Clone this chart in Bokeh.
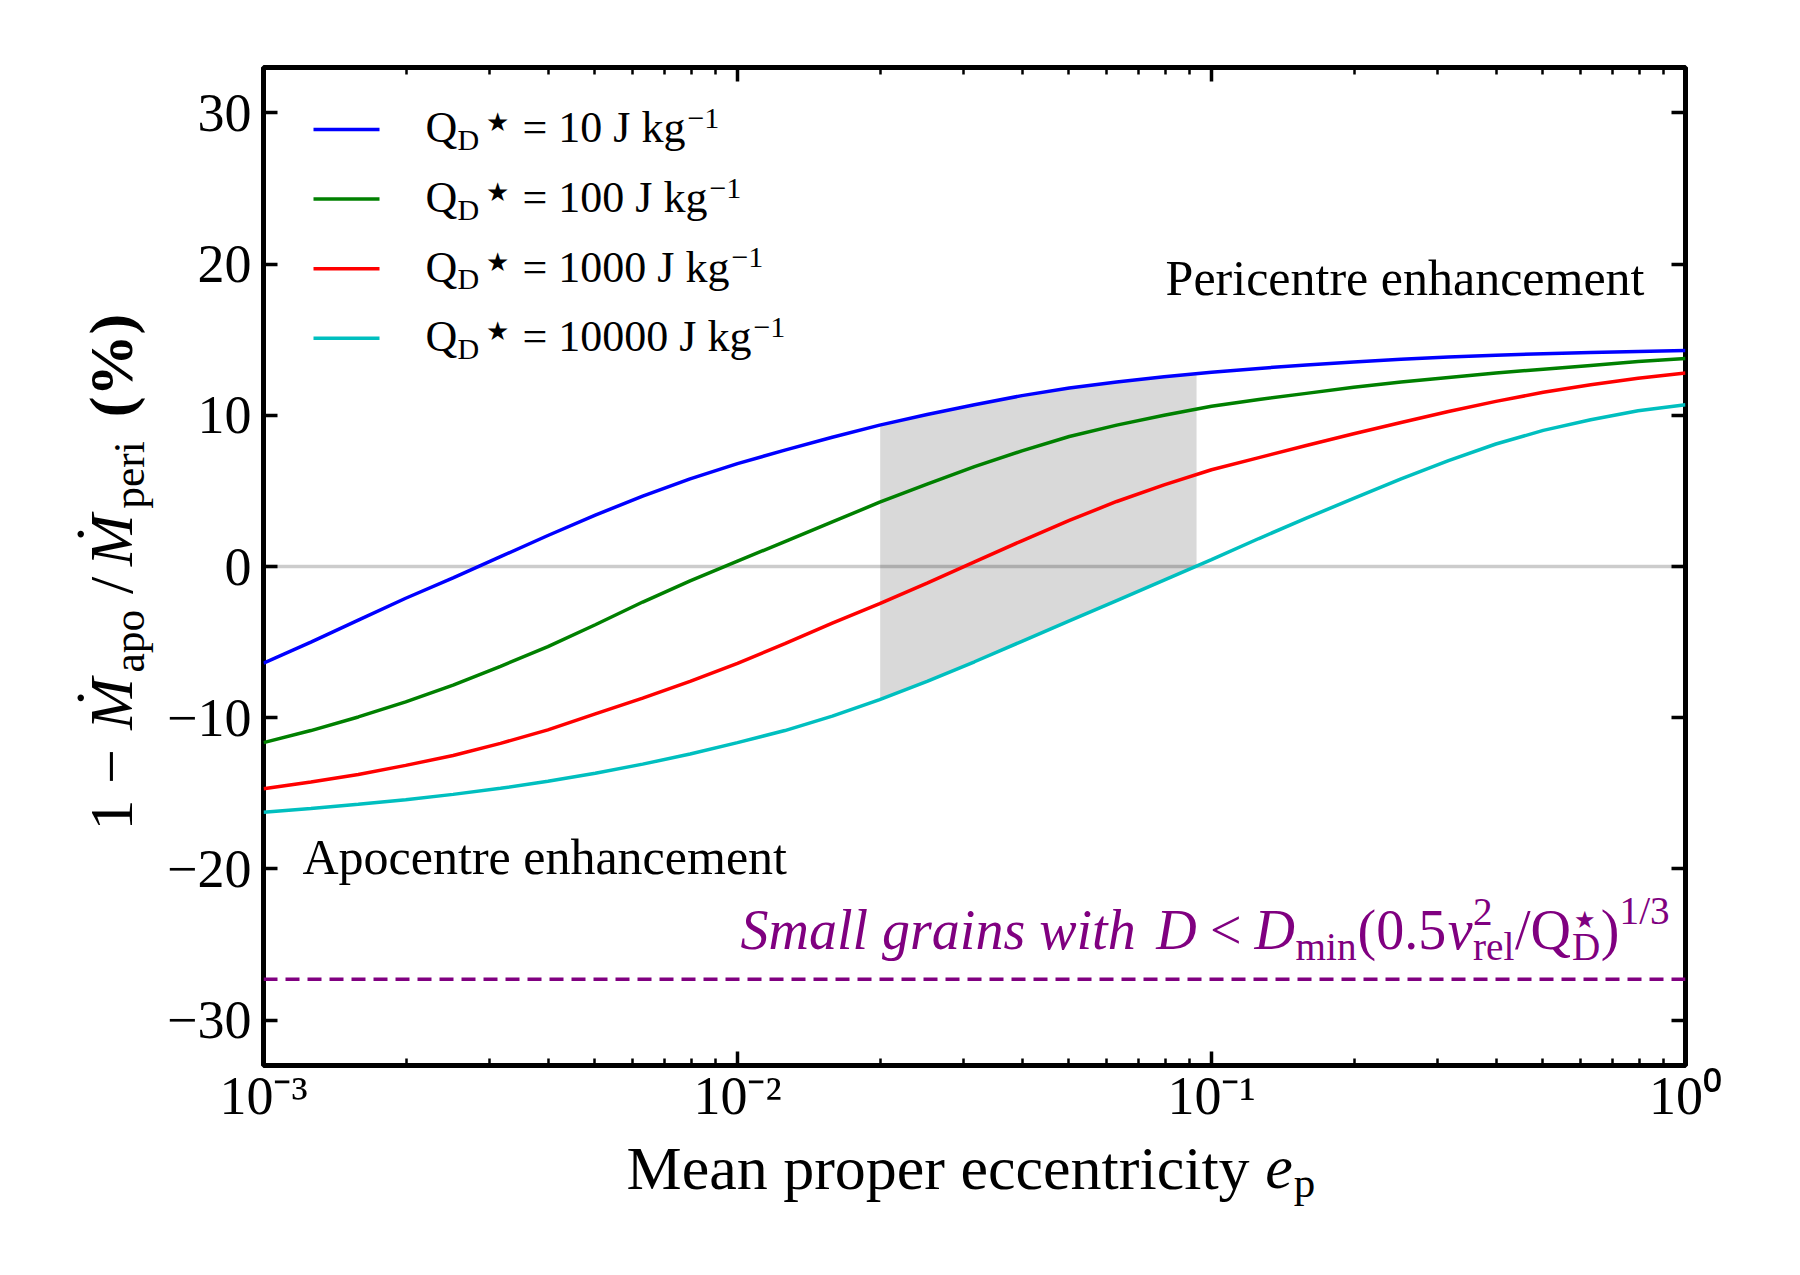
import math
import numpy as np
from bokeh.plotting import figure
from bokeh.layouts import row, column
from bokeh.models import Range1d, LogAxis, LinearAxis, FixedTicker, LogTicker, Span, Label
from bokeh.embed import file_html
from bokeh.resources import INLINE

# ---------------- data ----------------
LOG_ECC = [-3.0, -2.9, -2.8, -2.7, -2.6, -2.5, -2.4, -2.3, -2.2, -2.1, -2.0,
           -1.9, -1.8, -1.7, -1.6, -1.5, -1.4, -1.3, -1.2, -1.1, -1.0,
           -0.9, -0.8, -0.7, -0.6, -0.5, -0.4, -0.3, -0.2, -0.1, 0.0]
QD10 = [-6.4, -5.0, -3.55, -2.1, -0.75, 0.65, 2.05, 3.4, 4.65, 5.8, 6.8,
        7.7, 8.55, 9.35, 10.05, 10.7, 11.3, 11.8, 12.2, 12.55, 12.85,
        13.1, 13.33, 13.53, 13.7, 13.85, 13.97, 14.07, 14.15, 14.22, 14.28]
QD100 = [-11.65, -10.85, -9.95, -8.95, -7.85, -6.6, -5.3, -3.85, -2.35, -0.95, 0.35,
         1.65, 2.95, 4.25, 5.45, 6.6, 7.65, 8.6, 9.35, 10.0, 10.6,
         11.05, 11.45, 11.85, 12.2, 12.5, 12.8, 13.05, 13.3, 13.55, 13.75]
QD1000 = [-14.7, -14.25, -13.75, -13.15, -12.5, -11.7, -10.8, -9.75, -8.7, -7.6, -6.4,
          -5.1, -3.75, -2.45, -1.1, 0.3, 1.7, 3.05, 4.3, 5.4, 6.4,
          7.2, 8.0, 8.78, 9.52, 10.25, 10.92, 11.52, 12.02, 12.45, 12.8]
QD10000 = [-16.25, -16.0, -15.72, -15.42, -15.07, -14.67, -14.2, -13.67, -13.07, -12.4, -11.65,
           -10.85, -9.9, -8.8, -7.6, -6.3, -4.95, -3.6, -2.25, -0.9, 0.45,
           1.85, 3.2, 4.5, 5.8, 7.0, 8.1, 9.0, 9.7, 10.3, 10.7]
QD_LABELS = ["10", "100", "1000", "10000"]
SERIES_COLORS = ["#0000ff", "#008000", "#ff0000", "#00bfbf"]
SHADE_ECC = [0.02, 0.093]
ZERO_LEVEL = 0.0
SMALL_GRAIN_LEVEL = -27.3
Y_TICKS = [-30, -20, -10, 0, 10, 20, 30]
X_TICK_LABELS = {0.001: "10\u207b\u00b3", 0.01: "10\u207b\u00b2", 0.1: "10\u207b\u00b9", 1: "10\u2070"}
X_RANGE = [1e-3, 1.0]
Y_RANGE = [-33.0, 33.0]

# ---------------- page geometry ----------------
W, H = 1800, 1275
FL, FR, FT, FB = 263, 1685, 67, 1065      # plot frame on the page
YW = 160                                   # strip holding the y-axis title
MAIN_H = 1130                              # main figure height (frame + tick labels)
XH = H - MAIN_H                            # strip holding the x-axis title
SERIF = "Liberation Serif"
PURPLE = "#800080"
BASE_FIX = 0.33                            # alphabetic-baseline correction (em)
ROT_SHIFT = 78                             # along-text correction for rotated labels

p = figure(width=W - YW, height=MAIN_H, x_axis_type="log",
           x_range=Range1d(*X_RANGE), y_range=Range1d(*Y_RANGE),
           output_backend="svg", toolbar_location=None,
           min_border_left=FL - YW, min_border_right=W - FR,
           min_border_top=FT, min_border_bottom=MAIN_H - FB)
p.background_fill_color = "white"
p.border_fill_color = "white"
p.outline_line_color = "black"
p.outline_line_width = 5
p.xgrid.visible = False
p.ygrid.visible = False

top_ax = LogAxis()
right_ax = LinearAxis()
p.add_layout(top_ax, "above")
p.add_layout(right_ax, "right")


def style_axis(ax, labels):
    ax.axis_line_color = None
    ax.major_tick_in = 14
    ax.major_tick_out = 0
    ax.major_tick_line_width = 3.5
    ax.major_tick_line_color = "black"
    ax.minor_tick_in = 7
    ax.minor_tick_out = 0
    ax.minor_tick_line_width = 2.5
    ax.minor_tick_line_color = "black"
    ax.major_label_text_font = SERIF
    ax.major_label_text_color = "black"
    if labels:
        ax.major_label_text_font_size = "54px"
    else:
        ax.major_label_text_font_size = "0px"
        ax.major_label_standoff = 0


for ax in p.below + [top_ax]:
    ax.ticker = LogTicker(num_minor_ticks=10)
for ax in p.left + [right_ax]:
    ax.ticker = FixedTicker(ticks=Y_TICKS, minor_ticks=[])

for ax in p.below:
    style_axis(ax, True)
    ax.major_label_overrides = X_TICK_LABELS
    ax.major_label_standoff = 0
for ax in p.left:
    style_axis(ax, True)
    ax.major_label_overrides = {t: ("\u2212" + str(abs(t)) if t < 0 else str(t)) for t in Y_TICKS}
    ax.major_label_standoff = 12
style_axis(top_ax, False)
top_ax.major_label_overrides = {k: "" for k in X_TICK_LABELS}
style_axis(right_ax, False)
right_ax.major_label_overrides = {t: "" for t in Y_TICKS}

# ---------------- marks ----------------
ecc = [10 ** v for v in LOG_ECC]
series = [QD10, QD100, QD1000, QD10000]

p.add_layout(Span(location=ZERO_LEVEL, dimension="width", line_color="black",
                  line_alpha=0.2, line_width=3.5, level="underlay"))

lo, hi = math.log10(SHADE_ECC[0]), math.log10(SHADE_ECC[1])
xs_log = [lo] + [v for v in LOG_ECC if lo < v < hi] + [hi]
shade_top = np.interp(xs_log, LOG_ECC, QD10)
shade_bot = np.interp(xs_log, LOG_ECC, QD10000)
p.varea(x=[10 ** v for v in xs_log], y1=shade_bot, y2=shade_top,
        fill_color="black", fill_alpha=0.15)

for vals, col in zip(series, SERIES_COLORS):
    p.line(ecc, vals, line_color=col, line_width=3.5)

p.add_layout(Span(location=SMALL_GRAIN_LEVEL, dimension="width", line_color=PURPLE,
                  line_width=3.5, line_dash="14 8"))


# ---------------- helper figures for the axis titles ----------------
def blank(width, height):
    f = figure(width=width, height=height, output_backend="svg", toolbar_location=None,
               x_axis_location=None, y_axis_location=None, min_border=0,
               x_range=Range1d(0, 1), y_range=Range1d(0, 1))
    f.outline_line_color = None
    f.background_fill_color = "white"
    f.border_fill_color = "white"
    f.grid.visible = False
    return f


yfig = blank(YW, MAIN_H)
xfig = blank(W, XH)

# origin of screen units (frame left, frame bottom) of each figure on the page
ORIGIN = {id(p): (FL, FB), id(yfig): (0, MAIN_H), id(xfig): (0, H)}

# ---------------- text helpers ----------------
REG = {' ': 250, '(': 333, ')': 333, '%': 833, '.': 250, '/': 278, '<': 564, '=': 564,
       '\u2212': 564, 'A': 722, 'D': 722, 'J': 389, 'M': 889, 'P': 556, 'Q': 722,
       'a': 444, 'c': 444, 'e': 444, 'g': 500, 'h': 500, 'i': 278, 'k': 500, 'l': 278,
       'm': 778, 'n': 500, 'o': 500, 'p': 500, 'r': 333, 's': 389, 't': 278, 'v': 500,
       'y': 500, '\u2605': 800, '\u02d9': 333}
ITA = {' ': 250, 'D': 722, 'M': 833, 'S': 500, 'a': 500, 'e': 444, 'g': 500, 'h': 500,
       'i': 278, 'l': 278, 'm': 722, 'n': 500, 'r': 389, 's': 389, 't': 278, 'v': 444,
       'w': 667}
BLD = {'(': 333, ')': 333, '%': 1000, ' ': 250}


def measure(s, size, style="normal"):
    table = ITA if style == "italic" else (BLD if style == "bold" else REG)
    return sum(table.get(c, 500) for c in s) * size / 1000.0


def lab(fig, text, X, Y, size, color="black", style="normal", align="left", angle=0.0):
    """Place text whose alphabetic baseline starts at page pixel (X, Y)."""
    ox, oy = ORIGIN[id(fig)]
    fix = BASE_FIX * size
    if angle:
        X = X - fix
        Y = Y + ROT_SHIFT
    else:
        Y = Y - fix
    fig.add_layout(Label(x=X - ox, y=oy - Y, x_units="screen", y_units="screen",
                         text=text, text_font=SERIF, text_font_size=f"{size:.1f}px",
                         text_font_style=style, text_color=color, text_align=align,
                         text_baseline="alphabetic", angle=angle))


def compose(fig, groups, X0, Y0, color="black", target=None, vertical=False):
    """groups: list of (items, extra_advance); item = (text, size, style, dv[, du, align])."""
    widths = [max(measure(it[0], it[1], it[2]) for it in items) + extra for items, extra in groups]
    k = (target / sum(widths)) if target else 1.0
    u = 0.0
    for (items, extra), w in zip(groups, widths):
        for it in items:
            t, sz, st, dv = it[0], it[1], it[2], it[3]
            du = it[4] if len(it) > 4 else 0.0
            al = it[5] if len(it) > 5 else "left"
            if vertical:
                lab(fig, t, X0 - dv, Y0 - (u + du), sz, color, st, align=al, angle=math.pi / 2)
            else:
                lab(fig, t, X0 + u + du, Y0 - dv, sz, color, st, align=al)
        u += w * k


# ---------------- legend ----------------
def px2x(X):
    a, b = math.log10(X_RANGE[0]), math.log10(X_RANGE[1])
    return 10 ** (a + (X - FL) / (FR - FL) * (b - a))


def py2y(Y):
    return Y_RANGE[1] - (Y - FT) / (FB - FT) * (Y_RANGE[1] - Y_RANGE[0])


for i, (qd, col) in enumerate(zip(QD_LABELS, SERIES_COLORS)):
    ly = 129 + i * 69.6
    p.segment(x0=[px2x(313)], y0=[py2y(ly)], x1=[px2x(379)], y1=[py2y(ly)],
              line_color=col, line_width=3.5)
    b = ly + 13
    lab(p, "Q", 425, b, 44)
    lab(p, "D", 457, b + 7, 30)
    lab(p, "\u2605", 497, b - 11, 26, align="center")
    main = f"= {qd} J kg"
    lab(p, main, 522, b, 44)
    lab(p, "\u22121", 522 + measure(main, 44) + 2, b - 14, 30)

# ---------------- annotations ----------------
lab(p, "Pericentre enhancement", 1644, 294, 50, align="right")
lab(p, "Apocentre enhancement", 302, 872.5, 50)

F = 56
S = 0.7 * F
purple_groups = [
    ([("Small grains with", F, "italic", 0)], 0.25 * F),
    ([("D", F, "italic", 0)], 0.22 * F),
    ([("<", F, "normal", 0)], 0.22 * F),
    ([("D", F, "italic", 0)], 0),
    ([("min", S, "normal", -0.2 * F)], 0),
    ([("(0.5", F, "normal", 0)], 0),
    ([("v", F, "italic", 0)], 0),
    ([("2", S, "normal", 0.42 * F), ("rel", S, "normal", -0.2 * F)], 0),
    ([("/Q", F, "normal", 0)], 0),
    ([("\u2605", 24, "normal", 0.36 * F, 2), ("D", S, "normal", -0.2 * F)], 0),
    ([(")", F, "normal", 0)], 0),
    ([("1/3", S, "normal", 0.45 * F)], 0),
]
compose(p, purple_groups, 740, 948, color=PURPLE, target=930)

# ---------------- x axis title ----------------
XL = 62
x0 = 626
lab(xfig, "Mean proper eccentricity", x0, 1188, XL)
ex = x0 + measure("Mean proper eccentricity ", XL)
lab(xfig, "e", ex, 1188, XL, style="italic")
lab(xfig, "p", ex + measure("e", XL, "italic") + 1, 1196, 43)

# ---------------- y axis title (rotated, bottom to top) ----------------
YL = 62
YS = 0.7 * YL
mw = measure("M", YL, "italic")
dot = ("\u02d9", YL, "normal", 14, mw / 2 + 6, "center")
ylabel_groups = [
    ([("1 \u2212", YL, "normal", 0)], 0.15 * YL),
    ([("M", YL, "italic", 0), dot], 0),
    ([("apo", YS, "normal", -12)], 8),
    ([("/", YL, "normal", 0)], 8),
    ([("M", YL, "italic", 0), dot], 0),
    ([("peri", YS, "normal", -12)], 15),
    ([("(%)", YL, "bold", 0)], 0),
]
compose(yfig, ylabel_groups, 131, 817, target=528, vertical=True)

layout = column(row(yfig, p), xfig)
open("out.html", "w").write(file_html(layout, INLINE))
